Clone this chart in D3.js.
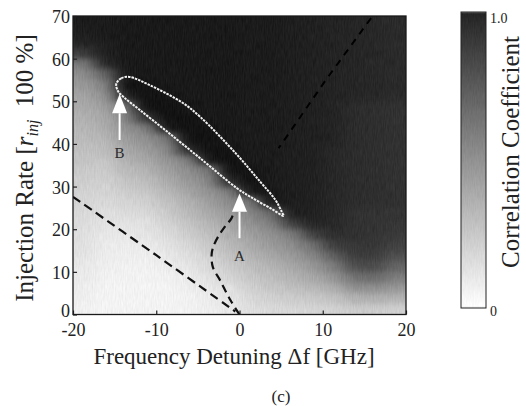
<!DOCTYPE html>
<html><head><meta charset="utf-8">
<script src="https://cdn.jsdelivr.net/npm/d3@7"></script>
<style>body{margin:0;background:#fff}svg{display:block}</style>
</head><body>
<svg id="chart" width="526" height="406"></svg>
<script>
// ---------- data ----------
const freqCells = [-18.75,-16.25,-13.75,-11.25,-8.75,-6.25,-3.75,-1.25,1.25,3.75,6.25,8.75,11.25,13.75,16.25,18.75];
const rateCells = [68.75,66.25,63.75,61.25,58.75,56.25,53.75,51.25,48.75,46.25,43.75,41.25,38.75,36.25,33.75,31.25,28.75,26.25,23.75,21.25,18.75,16.25,13.75,11.25,8.75,6.25,3.75,1.25];
// correlation coefficient, one row per rateCells entry, one value per freqCells entry
const correlation = [
 [.96,.96,.97,.97,.97,.97,.97,.97,.96,.96,.95,.94,.93,.92,.91,.90],
 [.95,.96,.97,.97,.97,.97,.97,.97,.96,.96,.95,.94,.93,.92,.91,.90],
 [.93,.95,.97,.97,.97,.97,.97,.97,.96,.96,.95,.94,.93,.92,.91,.90],
 [.82,.94,.97,.97,.97,.97,.97,.97,.96,.96,.95,.94,.93,.92,.91,.90],
 [.56,.90,.97,.97,.97,.97,.97,.97,.96,.96,.95,.94,.93,.92,.91,.90],
 [.48,.65,.97,.97,.97,.97,.97,.97,.96,.96,.95,.94,.93,.92,.91,.90],
 [.43,.52,1.0,.99,.97,.97,.97,.97,.96,.96,.95,.94,.93,.92,.91,.90],
 [.39,.46,.92,1.0,.99,.97,.97,.97,.96,.96,.95,.94,.93,.92,.91,.90],
 [.36,.41,.59,1.0,1.0,.98,.97,.97,.96,.96,.95,.94,.93,.89,.88,.87],
 [.33,.37,.52,.86,1.0,1.0,.97,.97,.96,.96,.95,.94,.93,.89,.88,.87],
 [.31,.34,.47,.55,.97,1.0,.99,.97,.96,.96,.95,.94,.93,.89,.88,.87],
 [.29,.31,.42,.47,.58,1.0,1.0,.97,.96,.96,.95,.94,.93,.89,.88,.87],
 [.27,.28,.37,.42,.50,.90,1.0,.99,.96,.96,.95,.94,.91,.89,.88,.87],
 [.25,.25,.33,.37,.45,.55,.98,1.0,.96,.96,.95,.94,.91,.89,.88,.87],
 [.23,.22,.29,.32,.40,.48,.58,1.0,.99,.96,.95,.94,.91,.89,.88,.87],
 [.21,.20,.25,.28,.35,.43,.51,.90,1.0,.96,.95,.94,.91,.89,.88,.87],
 [.19,.18,.21,.24,.30,.38,.46,.55,.98,.98,.95,.94,.91,.89,.88,.87],
 [.18,.16,.18,.20,.26,.33,.41,.49,.58,.98,.95,.94,.91,.89,.88,.87],
 [.16,.14,.15,.16,.22,.29,.36,.43,.51,.62,.94,.94,.91,.87,.86,.86],
 [.15,.12,.12,.13,.18,.25,.31,.38,.46,.53,.80,.92,.91,.87,.86,.85],
 [.14,.10,.10,.11,.15,.21,.27,.34,.41,.47,.55,.80,.88,.87,.86,.83],
 [.13,.09,.08,.09,.12,.17,.23,.30,.36,.42,.48,.60,.82,.85,.85,.80],
 [.12,.08,.07,.07,.10,.14,.19,.26,.32,.37,.43,.51,.68,.82,.82,.74],
 [.10,.07,.06,.06,.08,.11,.16,.22,.28,.32,.37,.44,.55,.75,.76,.65],
 [.09,.06,.06,.05,.06,.09,.13,.18,.24,.28,.32,.37,.45,.60,.62,.55],
 [.08,.05,.05,.05,.05,.07,.10,.13,.20,.24,.27,.30,.35,.47,.48,.44],
 [.07,.05,.05,.05,.05,.06,.08,.11,.17,.20,.22,.23,.26,.33,.34,.32],
 [.06,.05,.05,.05,.05,.06,.07,.10,.14,.16,.17,.18,.19,.22,.22,.20]
];
const cellWidth = 2.5, cellHeight = 2.5;

// closed (white dotted) contour around the high-correlation region
const contour = [[-14.8,54.1],[-14.2,55.4],[-13.2,55.7],[-10.8,53.8],[-6.8,49.6],[-4.7,46.3],[-0.5,37.9],[2.5,31.1],[4.3,26.9],[5.1,24.0],[5.3,23.1],[3.9,24.7],[1.3,27.6],[-0.3,29.6],[-4.7,36.6],[-8.7,42.9],[-12.0,48.0],[-13.8,50.8],[-14.6,52.4]];
// dashed boundaries
const dashLeft  = [[-20,27.6],[-10,13.9],[-0.5,0.7]];
const dashA     = [[0,0],[-1.1,3.4],[-2.3,7.9],[-3.2,11.1],[-3.35,14.0],[-3.15,15.9],[-2.55,18.3],[-1.75,20.6],[-0.95,22.6],[-0.65,24.5]];
const dashUpper = [[15.8,69.5],[10.3,54.8],[4.7,39.0]];
// arrows: name, frequency, tip, head base, tail, label position
const arrows = [
 {name:"A", f:0.0,   tip:28.4, base:24.1, tail:17.9, label:13.7},
 {name:"B", f:-14.4, tip:51.7, base:47.2, tail:40.9, label:37.9}
];
const xTicks = [-20,-10,0,10,20];
const yTicks = [0,10,20,30,40,50,60,70];
const colorbarTicks = [{v:1.0,t:"1.0"},{v:0,t:"0"}];

// ---------- drawing ----------
const svg = d3.select("#chart");
const FONT = "'Liberation Serif','Times New Roman',serif";
const x = d3.scaleLinear().domain([-20,20]).range([73,406]);
const y = d3.scaleLinear().domain([0,70]).range([314.5,16]);
const color = d3.scaleLinear().domain([0,1]).range(["#ffffff","#121212"]);

const defs = svg.append("defs");
defs.append("clipPath").attr("id","plotclip").append("rect")
  .attr("x",x(-20)).attr("y",y(70)).attr("width",x(20)-x(-20)).attr("height",y(0)-y(70));

function grainFilter(id, fx, fy, fw, fh, amount, blur){
  const flt = defs.append("filter").attr("id",id)
    .attr("filterUnits","userSpaceOnUse").attr("x",fx).attr("y",fy).attr("width",fw).attr("height",fh)
    .attr("color-interpolation-filters","sRGB");
  flt.append("feGaussianBlur").attr("in","SourceGraphic").attr("stdDeviation",blur).attr("result","b");
  flt.append("feTurbulence").attr("type","fractalNoise").attr("baseFrequency","0.9 0.12").attr("numOctaves",2).attr("seed",4).attr("result","t");
  flt.append("feColorMatrix").attr("in","t").attr("type","matrix")
    .attr("values","1 0 0 0 0  1 0 0 0 0  1 0 0 0 0  0 0 0 0 1").attr("result","n");
  flt.append("feComposite").attr("in","b").attr("in2","n").attr("operator","arithmetic")
    .attr("k1",0).attr("k2",1).attr("k3",amount).attr("k4",-amount/2).attr("result","c");
  flt.append("feComposite").attr("in","c").attr("in2","SourceGraphic").attr("operator","in");
}
grainFilter("smooth", 40, 0, 400, 350, 0.08, "8 3");

// heatmap
const cells = [];
rateCells.forEach((r,i)=>freqCells.forEach((f,j)=>cells.push({f,r,v:correlation[i][j],i,j})));
const heat = svg.append("g").attr("clip-path","url(#plotclip)").append("g").attr("filter","url(#smooth)");
heat.selectAll("rect").data(cells).join("rect")
  .attr("shape-rendering","crispEdges")
  .attr("x",d=>x(d.f-cellWidth/2) - (d.j===0?25:0))
  .attr("width",d=>x(d.f+cellWidth/2)-x(d.f-cellWidth/2)+0.6 + (d.j===0?25:0) + (d.j===freqCells.length-1?25:0))
  .attr("y",d=>y(d.r+cellHeight/2) - (d.i===0?25:0))
  .attr("height",d=>y(d.r-cellHeight/2)-y(d.r+cellHeight/2)+0.6 + (d.i===0?25:0) + (d.i===rateCells.length-1?25:0))
  .attr("fill",d=>color(d.v));

const over = svg.append("g").attr("clip-path","url(#plotclip)");
const line = d3.line().x(d=>x(d[0])).y(d=>y(d[1]));
over.append("path").attr("d",line.curve(d3.curveCatmullRom)(dashLeft))
  .attr("fill","none").attr("stroke","#111").attr("stroke-width",2.2).attr("stroke-dasharray","9 5");
over.append("path").attr("d",line.curve(d3.curveCatmullRom)(dashA))
  .attr("fill","none").attr("stroke","#111").attr("stroke-width",2.2).attr("stroke-dasharray","8 5");
over.append("path").attr("d",line.curve(d3.curveLinear)(dashUpper))
  .attr("fill","none").attr("stroke","#000").attr("stroke-width",2).attr("stroke-dasharray","7 6");
over.append("path").attr("d",d3.line().x(d=>x(d[0])).y(d=>y(d[1])).curve(d3.curveCatmullRomClosed)(contour))
  .attr("fill","none").attr("stroke","#f2f2f2").attr("stroke-width",2).attr("stroke-dasharray","2.5 1");

// arrows
const ag = over.selectAll("g.arrow").data(arrows).join("g").attr("class","arrow");
ag.append("line").attr("x1",d=>x(d.f)).attr("x2",d=>x(d.f)).attr("y1",d=>y(d.base)).attr("y2",d=>y(d.tail))
  .attr("stroke","#fff").attr("stroke-width",2);
ag.append("path").attr("d",d=>`M${x(d.f)},${y(d.tip)}L${x(d.f)-7.5},${y(d.base)}L${x(d.f)+7.5},${y(d.base)}Z`)
  .attr("fill","#fff");
ag.append("text").attr("x",d=>x(d.f)).attr("y",d=>y(d.label)).attr("dy","0.35em")
  .attr("text-anchor","middle").attr("font-family",FONT).attr("font-size",15).attr("fill","#2a2a2a")
  .text(d=>d.name);

// axes
const xa = svg.append("g").attr("transform",`translate(0,${y(0)})`)
  .call(d3.axisBottom(x).tickValues(xTicks).tickFormat(d=>String(d)).tickSizeInner(-4).tickSizeOuter(0).tickPadding(9));
const ya = svg.append("g").attr("transform",`translate(${x(-20)},0)`)
  .call(d3.axisLeft(y).tickValues(yTicks).tickFormat(d=>String(d)).tickSizeInner(-4).tickSizeOuter(0).tickPadding(3));
[xa,ya].forEach(a=>{
  a.select(".domain").remove();
  a.selectAll("line").attr("stroke","#222").attr("stroke-width",1.2);
  a.selectAll("text").attr("font-family",FONT).attr("font-size",18).attr("fill","#222");
});
ya.selectAll("text").attr("dy",d=>d===0?"0.12em":"0.36em");
svg.append("rect").attr("x",x(-20)).attr("y",y(70)).attr("width",x(20)-x(-20)).attr("height",y(0)-y(70))
  .attr("fill","none").attr("stroke","#1a1a1a").attr("stroke-width",1.3);

// axis titles
svg.append("text").attr("x",234).attr("y",363.5).attr("text-anchor","middle")
  .attr("font-family",FONT).attr("font-size",23).attr("fill","#222").text("Frequency Detuning \u0394f [GHz]");
const yt = svg.append("text").attr("transform","translate(33,168) rotate(-90)").attr("text-anchor","middle")
  .attr("font-family",FONT).attr("font-size",25).attr("fill","#222");
yt.append("tspan").text("Injection Rate [");
yt.append("tspan").attr("font-style","italic").text("r");
yt.append("tspan").attr("font-style","italic").attr("font-size",16).attr("dy",5).text("inj");
yt.append("tspan").attr("dy",-5).text("\u00a0\u00a0100 %]");

svg.append("text").attr("x",281).attr("y",402).attr("text-anchor","middle")
  .attr("font-family",FONT).attr("font-size",17).attr("fill","#222").text("(c)");

// colorbar
const cb = {x:461, w:25};
const cy = d3.scaleLinear().domain([0,1]).range([308,12]);
const grad = defs.append("linearGradient").attr("id","cbgrad").attr("x1",0).attr("y1",1).attr("x2",0).attr("y2",0);
d3.range(0,1.0001,0.1).forEach(t=>grad.append("stop").attr("offset",t).attr("stop-color",color(t*0.93)));
grainFilter("cbgrain", cb.x-2, 10, cb.w+4, 300, 0.06, "0 1");
svg.append("rect").attr("x",cb.x).attr("y",cy(1)).attr("width",cb.w).attr("height",cy(0)-cy(1))
  .attr("fill","url(#cbgrad)").attr("filter","url(#cbgrain)");
svg.append("rect").attr("x",cb.x).attr("y",cy(1)).attr("width",cb.w).attr("height",cy(0)-cy(1))
  .attr("fill","none").attr("stroke","#222").attr("stroke-width",1);
svg.selectAll("text.cbt").data(colorbarTicks).join("text").attr("class","cbt")
  .attr("x",cb.x+cb.w+4).attr("y",d=>cy(d.v)).attr("dy",d=>d.v===1?"0.75em":"0.6em")
  .attr("font-family",FONT).attr("font-size",14).attr("fill","#222").text(d=>d.t);
svg.append("text").attr("transform","translate(519,152) rotate(-90)").attr("text-anchor","middle")
  .attr("font-family",FONT).attr("font-size",25).attr("fill","#222").text("Correlation Coefficient");
</script>
</body></html>
